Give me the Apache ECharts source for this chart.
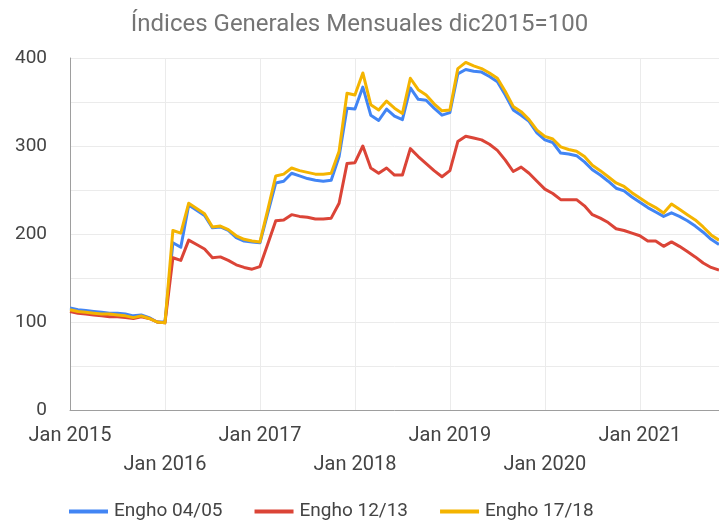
<!DOCTYPE html>
<html>
<head>
<meta charset="utf-8">
<script src="https://cdn.jsdelivr.net/npm/echarts@6/dist/echarts.min.js"></script>
<style>
  html, body { margin: 0; padding: 0; background: #fff; }
  #chart { width: 719px; height: 520px; }
</style>
</head>
<body>
<div id="chart"></div>
<script>
const titleText = 'Índices Generales Mensuales dic2015=100';
const seriesNames = ['Engho 04/05', 'Engho 12/13', 'Engho 17/18'];
const seriesColors = ['#4285F4', '#DB4437', '#F4B400'];
const yTicks = [0, 100, 200, 300, 400];

const months = [
  'Jan 2015','Feb 2015','Mar 2015','Apr 2015','May 2015','Jun 2015','Jul 2015','Aug 2015','Sep 2015','Oct 2015','Nov 2015','Dec 2015',
  'Jan 2016','Feb 2016','Mar 2016','Apr 2016','May 2016','Jun 2016','Jul 2016','Aug 2016','Sep 2016','Oct 2016','Nov 2016','Dec 2016',
  'Jan 2017','Feb 2017','Mar 2017','Apr 2017','May 2017','Jun 2017','Jul 2017','Aug 2017','Sep 2017','Oct 2017','Nov 2017','Dec 2017',
  'Jan 2018','Feb 2018','Mar 2018','Apr 2018','May 2018','Jun 2018','Jul 2018','Aug 2018','Sep 2018','Oct 2018','Nov 2018','Dec 2018',
  'Jan 2019','Feb 2019','Mar 2019','Apr 2019','May 2019','Jun 2019','Jul 2019','Aug 2019','Sep 2019','Oct 2019','Nov 2019','Dec 2019',
  'Jan 2020','Feb 2020','Mar 2020','Apr 2020','May 2020','Jun 2020','Jul 2020','Aug 2020','Sep 2020','Oct 2020','Nov 2020','Dec 2020',
  'Jan 2021','Feb 2021','Mar 2021','Apr 2021','May 2021','Jun 2021','Jul 2021','Aug 2021','Sep 2021','Oct 2021','Nov 2021'
];

const engho0405 = [
  116, 114, 113, 112, 111, 110, 110, 109, 107, 108, 105, 100,
  100, 190, 185, 233, 227, 221, 207, 208, 204, 196, 192, 191,
  190, 224, 258, 260, 269, 266, 263, 261, 260, 261, 288, 343,
  342, 367, 335, 329, 342, 334, 330, 366, 353, 352, 343, 335,
  338, 382, 387, 385, 384, 379, 373, 358, 341, 335, 328, 315,
  307, 304, 292, 291, 289, 282, 273, 267, 260, 252, 249, 242,
  236, 230, 225, 220, 224, 220, 215, 209, 202, 194, 188
];
const engho1213 = [
  112, 110, 109, 108, 107, 106, 106, 105, 104, 106, 104, 100,
  99, 173, 170, 193, 188, 183, 173, 174, 170, 165, 162, 160,
  163, 189, 215, 216, 222, 220, 219, 217, 217, 218, 235, 280,
  281, 300, 275, 269, 275, 267, 267, 297, 288, 280, 272, 265,
  272, 305, 311, 309, 307, 302, 295, 284, 271, 276, 269, 260,
  251, 246, 239, 239, 239, 232, 222, 218, 213, 206, 204, 201,
  198, 192, 192, 186, 191, 186, 180, 174, 167, 162, 159
];
const engho1718 = [
  114, 112, 111, 110, 109, 109, 108, 107, 105, 107, 104, 100,
  99, 204, 201, 235, 229, 223, 208, 209, 205, 198, 194, 192,
  191, 228, 266, 268, 275, 272, 270, 268, 268, 269, 294, 360,
  358, 383, 347, 341, 351, 343, 337, 377, 364, 358, 348, 340,
  341, 388, 395, 391, 388, 383, 377, 362, 345, 339, 330, 318,
  311, 308, 299, 296, 294, 288, 278, 272, 265, 258, 254, 247,
  241, 235, 230, 224, 234, 228, 222, 216, 208, 199, 193
];

const seriesData = [engho0405, engho1213, engho1718];
const FONT = 'Roboto, "Noto Sans", sans-serif';

const chart = echarts.init(document.getElementById('chart'), null, { renderer: 'canvas' });
chart.setOption({
  animation: false,
  backgroundColor: '#ffffff',
  title: {
    text: titleText,
    left: 'center',
    top: 8,
    textStyle: { fontFamily: FONT, fontSize: 24, fontWeight: 'normal', color: '#757575' }
  },
  legend: {
    top: 497,
    left: 64,
    icon: 'rect',
    itemWidth: 39,
    itemHeight: 4,
    itemGap: 32,
    textStyle: { fontFamily: FONT, fontSize: 19, color: '#444444', padding: [0, 0, 0, 1] },
    data: seriesNames
  },
  grid: { left: 70, right: 0, top: 58, bottom: 110, containLabel: false },
  xAxis: {
    type: 'category',
    data: months,
    boundaryGap: false,
    axisLine: { show: true, lineStyle: { color: '#9e9e9e', width: 1 } },
    axisTick: { show: false },
    axisLabel: {
      interval: (i, v) => v.startsWith('Jan'),
      formatter: (v) => {
        const yr = parseInt(v.slice(4), 10);
        return ((yr - 2015) % 2 === 1) ? '\n' + v : v;
      },
      fontFamily: FONT, fontSize: 20, color: '#444444',
      lineHeight: 29, margin: 11
    },
    splitLine: {
      show: true,
      interval: (i, v) => v.startsWith('Jan'),
      lineStyle: { color: '#ebebeb', width: 1 }
    }
  },
  yAxis: {
    type: 'value',
    min: 0, max: 400, interval: 50,
    axisLine: { show: true, lineStyle: { color: '#9e9e9e', width: 1 } },
    axisTick: { show: false },
    axisLabel: {
      formatter: (v) => yTicks.includes(v) ? String(v) : '',
      fontFamily: FONT, fontSize: 19, color: '#444444', margin: 23
    },
    splitLine: { show: true, lineStyle: { color: '#ebebeb', width: 1 } }
  },
  series: seriesNames.map((name, k) => ({
    name,
    type: 'line',
    data: seriesData[k],
    showSymbol: false,
    symbol: 'none',
    color: seriesColors[k],
    lineStyle: { width: 3, color: seriesColors[k], join: 'round' },
    z: 2 + k
  }))
});
</script>
</body>
</html>
